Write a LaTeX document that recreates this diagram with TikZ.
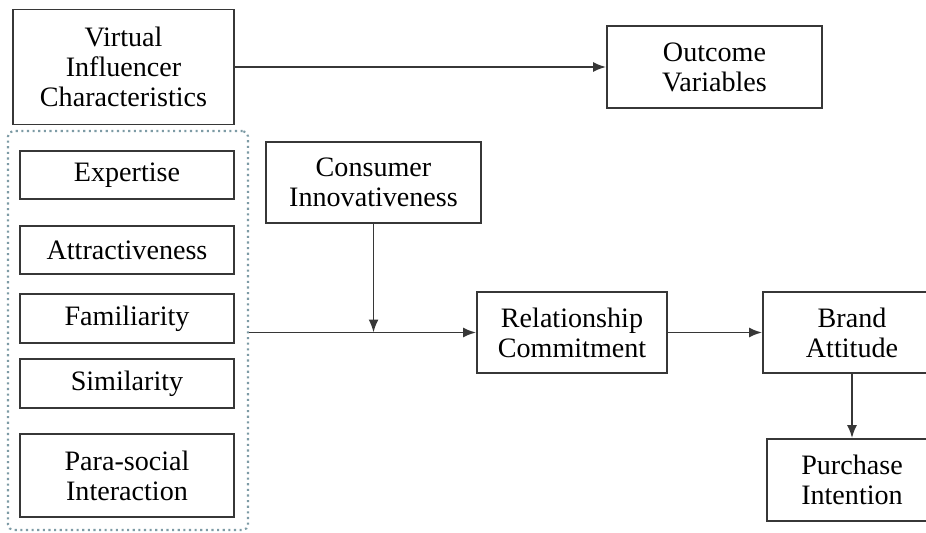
\documentclass[tikz,border=0pt]{standalone}
\usepackage{fontspec}
\setmainfont{Liberation Serif}
\usetikzlibrary{arrows.meta}

\definecolor{boxline}{RGB}{55,55,55}
\definecolor{groupline}{RGB}{125,155,165}

\begin{document}
\begin{tikzpicture}[
        x=0.02cm, y=-0.02cm, % one unit is one pixel of the layout
        every node/.style={font=\fontsize{16pt}{17pt}\selectfont},
        factor/.style={draw=boxline, line width=1.1pt, align=center, inner sep=0pt}, % Box styling
        group/.style={draw=groupline, line width=1.2pt, dotted, rounded corners=3pt, inner sep=0pt}, % Dotted frame
        link/.style={draw=boxline, line width=1pt, -{Latex[length=2.6mm,width=2mm]}} % Arrow styling
        ]
        \useasboundingbox (0,0) rectangle (926,533);

        % Define nodes
        \node (vic) [factor, minimum width=4.42cm, minimum height=2.3cm] at (123.5,67) {Virtual\\Influencer\\Characteristics};
        \node (outcome) [factor, minimum width=4.3cm, minimum height=1.64cm] at (714.5,67) {Outcome\\Variables};

        \node (frame) [group, minimum width=4.8cm, minimum height=7.98cm] at (128,330.5) {};
        \node (expertise) [factor, minimum width=4.28cm, minimum height=0.96cm] at (127,175) {Expertise};
        \node (attract) [factor, minimum width=4.28cm, minimum height=0.96cm] at (127,250) {Attractiveness};
        \node (familiar) [factor, minimum width=4.28cm, minimum height=0.98cm] at (127,318.5) {Familiarity};
        \node (similar) [factor, minimum width=4.28cm, minimum height=0.98cm] at (127,383.5) {Similarity};
        \node (parasocial) [factor, minimum width=4.28cm, minimum height=1.66cm] at (127,475.5) {Para-social\\Interaction};

        \node (innov) [factor, minimum width=4.3cm, minimum height=1.62cm] at (373.5,182.5) {Consumer\\Innovativeness};
        \node (commit) [factor, minimum width=3.8cm, minimum height=1.62cm] at (572,332.5) {Relationship\\Commitment};
        \node (attitude) [factor, minimum width=3.56cm, minimum height=1.62cm] at (852,332.5) {Brand\\Attitude};
        \node (intention) [factor, minimum width=3.4cm, minimum height=1.64cm] at (852,480) {Purchase\\Intention};

        % Draw arrows
        \draw[link] (vic.east) -- (outcome.west);
        \draw[link] (frame.east |- commit.west) -- (commit.west);
        \draw[link] (innov.south) -- (innov.south |- commit.west);
        \draw[link] (commit.east) -- (attitude.west);
        \draw[link] (attitude.south) -- (intention.north);

    \end{tikzpicture}
\end{document}
